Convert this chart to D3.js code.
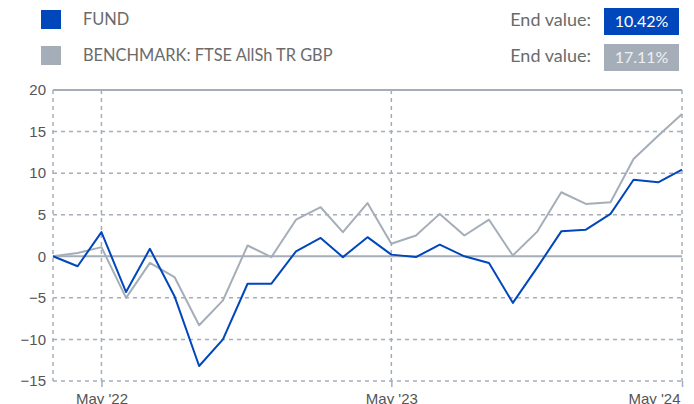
<!DOCTYPE html>
<html>
<head>
<meta charset="utf-8">
<script src="https://cdn.jsdelivr.net/npm/d3@7"></script>
<style>
  body { margin: 0; background: #fff; }
  svg { display: block; }
  .legend-text { font-family: Lato, "Open Sans", sans-serif; font-size: 16.4px; fill: #6b6b6b; }
  .tick text { font-family: "Liberation Sans", Arial, sans-serif; font-size: 15px; fill: #555; }
</style>
</head>
<body>
<div id="chart"></div>
<script>
// monthly cumulative performance, Mar 2022 .. May 2024 (%)
const months = ["2022-03","2022-04","2022-05","2022-06","2022-07","2022-08","2022-09","2022-10","2022-11","2022-12",
  "2023-01","2023-02","2023-03","2023-04","2023-05","2023-06","2023-07","2023-08","2023-09","2023-10","2023-11","2023-12",
  "2024-01","2024-02","2024-03","2024-04","2024-05"];
const fundValues = [0, -1.2, 2.9, -4.3, 0.9, -4.8, -13.2, -10.0, -3.3, -3.3,
  0.6, 2.2, -0.1, 2.3, 0.2, -0.1, 1.4, 0.0, -0.8, -5.6, -1.3, 3.0,
  3.2, 5.1, 9.2, 8.9, 10.42];
const benchValues = [0, 0.4, 1.1, -5.0, -0.8, -2.5, -8.3, -5.3, 1.3, -0.1,
  4.4, 5.9, 2.9, 6.4, 1.5, 2.5, 5.1, 2.5, 4.4, 0.1, 3.0, 7.7,
  6.3, 6.5, 11.7, 14.5, 17.11];
const seriesNames = ["FUND", "BENCHMARK: FTSE AllSh TR GBP"];
const seriesColors = ["#0047bb", "#a5aeb8"];
const endLabels = ["10.42%", "17.11%"];
const yTicks = [-15, -10, -5, 0, 5, 10, 15, 20];
const xTickMonths = ["2022-05", "2023-05", "2024-05"];

const width = 694, height = 404;
const margin = { top: 90, right: 12, bottom: 23, left: 53 };
const parse = d3.timeParse("%Y-%m");
const dates = months.map(parse);

const svg = d3.select("#chart").append("svg")
  .attr("width", width).attr("height", height);

const x = d3.scaleTime()
  .domain(d3.extent(dates))
  .range([margin.left, width - margin.right]);
const y = d3.scaleLinear()
  .domain([-15, 20])
  .range([height - margin.bottom, margin.top]);

const gridColor = "#a5aeb8";

// horizontal grid
svg.append("g").selectAll("line")
  .data(yTicks)
  .enter().append("line")
  .attr("x1", margin.left).attr("x2", width - margin.right)
  .attr("y1", d => y(d)).attr("y2", d => y(d))
  .attr("stroke", gridColor)
  .attr("stroke-width", d => (d === 0 || d === 20) ? 2 : 1.5)
  .attr("stroke-dasharray", d => (d === 0 || d === 20) ? null : "4,4");

// vertical grid
const vLines = [dates[0]].concat(xTickMonths.map(parse));
svg.append("g").selectAll("line")
  .data(vLines)
  .enter().append("line")
  .attr("x1", d => x(d)).attr("x2", d => x(d))
  .attr("y1", margin.top).attr("y2", height - margin.bottom)
  .attr("stroke", gridColor)
  .attr("stroke-width", 1.5)
  .attr("stroke-dasharray", "4,4");

// y axis
const yAxis = svg.append("g")
  .attr("transform", `translate(${margin.left},0)`)
  .call(d3.axisLeft(y).tickValues(yTicks).tickSize(0).tickPadding(7));
yAxis.select(".domain").remove();

// x axis
const xAxis = svg.append("g")
  .attr("transform", `translate(0,${height - margin.bottom})`)
  .call(d3.axisBottom(x)
    .tickValues(xTickMonths.map(parse))
    .tickFormat(d3.timeFormat("%b '%y"))
    .tickSize(6).tickPadding(3));
xAxis.select(".domain").remove();
xAxis.selectAll(".tick line").attr("stroke", gridColor).attr("stroke-width", 1.5);
xAxis.selectAll(".tick text").attr("dy", "0.9em");
xAxis.selectAll(".tick:last-of-type text").attr("text-anchor", "end").attr("x", -2);

// lines
const line = d3.line()
  .x((d, i) => x(dates[i]))
  .y(d => y(d));

[benchValues, fundValues].forEach((vals, k) => {
  svg.append("path")
    .datum(vals)
    .attr("fill", "none")
    .attr("stroke", seriesColors[1 - k])
    .attr("stroke-width", 2)
    .attr("stroke-linejoin", "round")
    .attr("d", line);
});

// legend
const legend = svg.append("g");
seriesNames.forEach((name, i) => {
  const yy = 10 + i * 36;
  legend.append("rect")
    .attr("x", 41).attr("y", yy)
    .attr("width", 20).attr("height", 19)
    .attr("fill", seriesColors[i]);
  legend.append("text")
    .attr("class", "legend-text")
    .attr("x", 83).attr("y", yy + 15)
    .text(name);

  legend.append("text")
    .attr("class", "legend-text")
    .attr("x", 591).attr("y", yy + 16)
    .attr("text-anchor", "end")
    .style("font-size", "18px")
    .text("End value:");
  legend.append("rect")
    .attr("x", 604).attr("y", yy - 2)
    .attr("width", 75).attr("height", 27)
    .attr("fill", seriesColors[i]);
  legend.append("text")
    .attr("class", "legend-text")
    .attr("x", 641.5).attr("y", yy + 17)
    .attr("text-anchor", "middle")
    .style("fill", i === 0 ? "#fff" : "#eef1f4")
    .style("font-size", "16px")
    .text(endLabels[i]);
});
</script>
</body>
</html>
